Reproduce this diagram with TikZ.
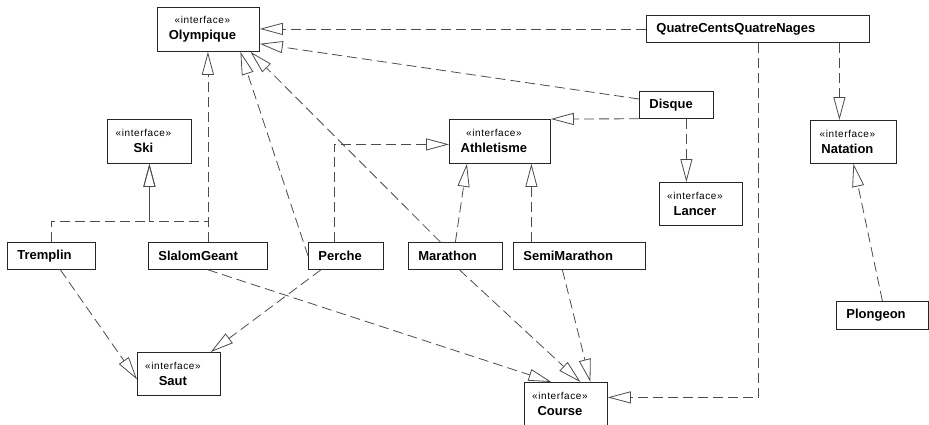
\documentclass[tikz,border=0pt]{standalone}
\usepackage{fontspec}
\setmainfont{Liberation Sans}
\newfontfamily\stereofam[LetterSpace=6]{Liberation Sans}
\usepackage{tikz}
\usetikzlibrary{arrows.meta, positioning}

\newcommand{\stereofont}{\stereofam\fontsize{10}{12}\selectfont}
\newcommand{\ifc}[1]{\hspace*{-12pt}{\stereofont «interface»}\\\hspace*{-12pt}\textbf{#1}}

\begin{document}
\begin{tikzpicture}[
        x=1pt, y=-1pt,
        every node/.style={draw=black!85, line width=0.8pt, anchor=north west,
            inner ysep=0pt, font=\fontsize{13}{16}\selectfont},
        cls/.style 2 args={text width=#1pt, minimum height=#2pt, inner xsep=10pt,
            align=left, font=\fontsize{13}{16}\selectfont\bfseries},
        iface/.style 2 args={text width=#1pt, minimum height=#2pt, inner xsep=2pt,
            align=center},
        realize/.style={draw=black!70, line width=0.8pt, dash pattern=on 10pt off 5pt,
            -{Triangle[open, length=23pt, width=12pt]}}
    ]
    \useasboundingbox (0,0) rectangle (929,424);
    % Define nodes
    \node[iface={98}{44}] (olymp) at (157,7) {\ifc{Olympique}};
    \node[iface={80}{44}] (ski) at (107,119) {\ifc{Ski}};
    \node[iface={97}{44}] (athl) at (449,119) {\ifc{Athletisme}};
    \node[iface={82}{43}] (natation) at (810,120) {\ifc{Natation}};
    \node[iface={79}{43}] (lancer) at (659,182) {\ifc{Lancer}};
    \node[iface={79}{43}] (saut) at (137,352) {\ifc{Saut}};
    \node[iface={79}{44}] (course) at (524,382) {\ifc{Course}};
    \node[cls={203}{27}] (qcqn) at (646,15) {QuatreCentsQuatreNages};
    \node[cls={54}{27}] (disque) at (639,91) {Disque};
    \node[cls={68}{27}] (tremplin) at (7,242) {Tremplin};
    \node[cls={99}{27}] (slalom) at (148,242) {SlalomGeant};
    \node[cls={55}{27}] (perche) at (308,242) {Perche};
    \node[cls={74}{27}] (marathon) at (408,242) {Marathon};
    \node[cls={112}{27}] (semi) at (513,242) {SemiMarathon};
    \node[cls={72}{28}] (plongeon) at (836,301) {Plongeon};
    \coordinate (skijoin) at (ski.south |- 0,221);
    % Draw edges
    \draw[realize] (qcqn.west) -- (qcqn.west -| olymp.east);
    \draw[realize] ([yshift=-8pt]disque.north west) -- ([yshift=8pt]olymp.south east);
    \draw[realize] (disque.south west) -- (athl.north east);
    \draw[realize] ([xshift=10pt]disque.south) -- ([xshift=10pt]disque.south |- lancer.north);
    \draw[realize] ([xshift=-14pt]natation.north |- qcqn.south) -- ([xshift=-14pt]natation.north);
    \draw[realize] (qcqn.south) |- ([yshift=7pt]course.east);
    \draw[realize] (tremplin.north) |- (skijoin) -- (ski.south);
    \draw[realize] (slalom.north) |- (skijoin) -- (ski.south);
    \draw[realize] (slalom.north) -- (slalom.north |- olymp.south);
    \draw[realize] (perche.west) -- ([xshift=32pt]olymp.south);
    \draw[realize] ([xshift=-12pt]perche.north) |- ([yshift=-3pt]athl.west);
    \draw[realize] ([xshift=-15pt]marathon.north) -- ([xshift=42pt]olymp.south);
    \draw[realize] (marathon.north) -- ([xshift=-33pt]athl.south);
    \draw[realize] ([xshift=-48pt]semi.north) -- ([xshift=-48pt]semi.north |- athl.south);
    \draw[realize] (plongeon.north) -- (natation.south);
    \draw[realize] ([xshift=9pt]tremplin.south) -- ([yshift=-5.5pt]saut.west);
    \draw[realize] ([xshift=-25pt]perche.south) -- ([xshift=-10pt]saut.north east);
    \draw[realize] (slalom.south) -- ([xshift=-14.5pt]course.north);
    \draw[realize] ([xshift=4pt]marathon.south) -- ([xshift=14.5pt]course.north);
    \draw[realize] ([xshift=-17pt]semi.south) -- ([xshift=24.5pt]course.north);
\end{tikzpicture}
\end{document}
